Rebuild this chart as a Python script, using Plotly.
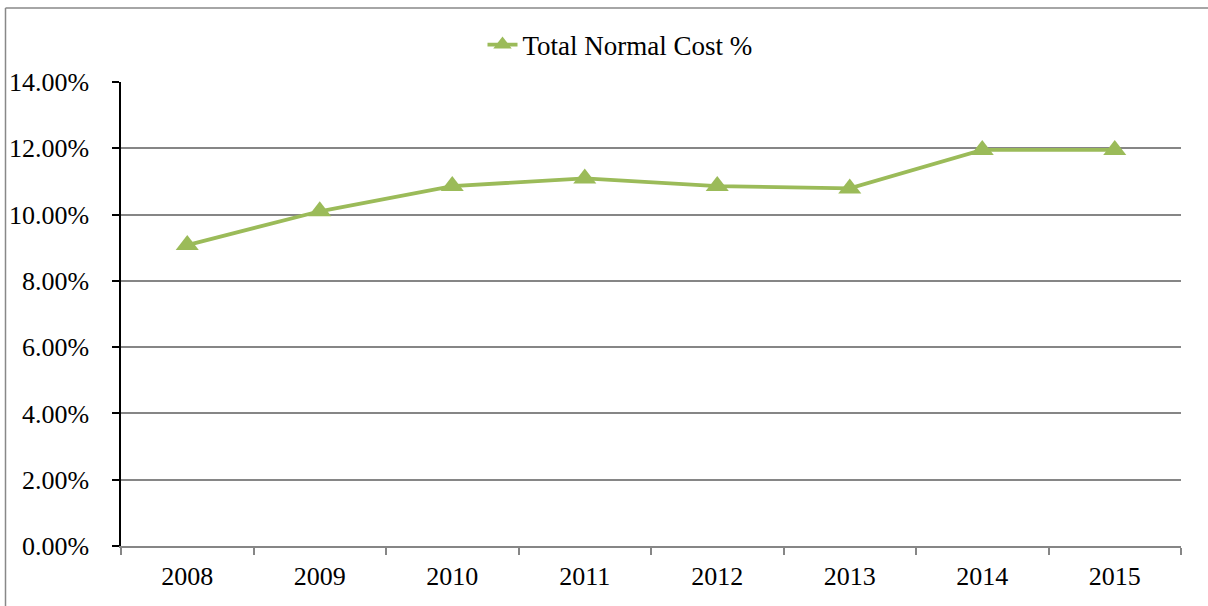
import plotly.graph_objects as go

years = ["2008", "2009", "2010", "2011", "2012", "2013", "2014", "2015"]
total_normal_cost = [9.08, 10.10, 10.86, 11.09, 10.86, 10.79, 11.95, 11.95]
y_ticks = [0, 2, 4, 6, 8, 10, 12, 14]
y_tick_labels = ["0.00%", "2.00%", "4.00%", "6.00%", "8.00%", "10.00%", "12.00%", "14.00%"]

W, H = 1208, 606
# plot area in page coordinates
PX0, PX1, PY0, PY1 = 121, 1181, 82, 546
L, R = PX0, W - PX1
T, B = PY0, H - PY1
pw, ph = PX1 - PX0, PY1 - PY0


def px(x):
    return (x - PX0) / pw


def py(y):
    return (PY1 - y) / ph


fig = go.Figure()
fig.add_trace(go.Scatter(
    x=years, y=total_normal_cost, mode="lines+markers",
    name="Total Normal Cost %",
    line=dict(color="#9BBB59", width=3.8),
    marker=dict(symbol="triangle-up", size=20, color="#9BBB59"),
))

font = dict(family="Liberation Serif, Times New Roman, serif", size=26, color="#000000")
legend_font = dict(family="Liberation Serif, Times New Roman, serif", size=27, color="#000000")

border = dict(color="#888888", width=1.5)

fig.update_layout(
    width=W, height=H,
    margin=dict(l=L, r=R, t=T, b=B, autoexpand=False),
    paper_bgcolor="white", plot_bgcolor="white",
    font=font,
    showlegend=True,
    legend=dict(orientation="h", x=px(620), xanchor="center",
                y=py(45), yanchor="middle",
                font=legend_font, bgcolor="rgba(0,0,0,0)"),
    xaxis=dict(type="category", range=[-0.5, 7.5], showgrid=False,
               showline=True, linecolor="#868686", linewidth=1.5,
               ticks="outside", tickson="boundaries", ticklen=7,
               tickcolor="#868686", tickwidth=1.5, tickfont=font,
               ticklabelstandoff=6, automargin=False),
    yaxis=dict(range=[0, 14], tickvals=y_ticks, ticktext=y_tick_labels,
               showgrid=True, gridcolor="#868686", gridwidth=1.5,
               showline=True, linecolor="#000000", linewidth=1.5,
               ticks="outside", ticklen=7, tickcolor="#000000", tickwidth=1.5,
               tickfont=font, ticklabelstandoff=18, zeroline=False,
               automargin=False),
    shapes=[
        dict(type="line", xref="paper", yref="paper",
             x0=px(5.5), x1=px(5.5), y0=py(H + 10), y1=py(8),
             line=border, layer="below"),
        dict(type="line", xref="paper", yref="paper",
             x0=px(5.5), x1=px(W + 10), y0=py(8), y1=py(8),
             line=border, layer="below"),
    ],
)

fig.write_html(
    "out.html",
    config={"displayModeBar": False},
    post_script="document.body.style.margin='0';document.body.style.overflow='hidden';",
)
